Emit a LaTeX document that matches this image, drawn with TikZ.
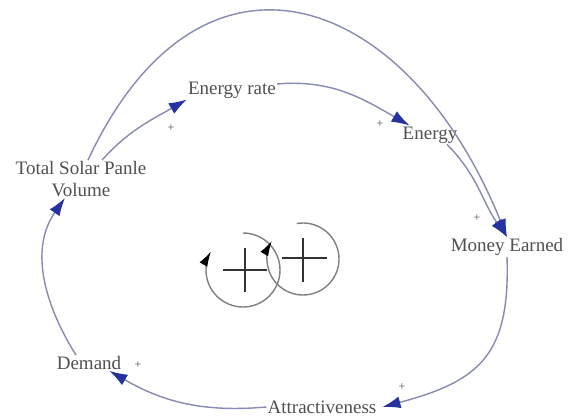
\documentclass[tikz,border=0pt]{standalone}
\usepackage{fontspec}
\setmainfont{Liberation Serif}
\usetikzlibrary{arrows.meta}
\definecolor{linkgray}{RGB}{135,138,178}
\definecolor{tipblue}{RGB}{38,50,160}
\definecolor{textgray}{RGB}{80,80,80}

\begin{document}
\begin{tikzpicture}[
        x=1pt, y=1pt,
        var/.style={inner sep=1pt, align=center, text=textgray, font=\fontsize{19}{22}\selectfont},
        sign/.style={inner sep=0pt, text=textgray, font=\fontsize{12}{12}\selectfont},
        link/.style={-{Latex[length=18pt,width=12pt,color=tipblue]}, draw=linkgray, line width=1.4pt},
        turn/.style={-{Latex[length=15pt,width=9pt,color=black]}, draw=gray, line width=1.4pt},
        cross/.style={draw=black!80, line width=2.4pt}
    ]
    \path[fill=white, use as bounding box] (0,0) rectangle (573,416);

    % Nodes
    \node[var] (solar) at (81,237) {Total Solar Panle\\Volume};
    \node[var] (rate) at (232,326) {Energy rate};
    \node[var] (energy) at (430,281) {Energy};
    \node[var] (money) at (507,169) {Money Earned};
    \node[var] (attr) at (322,9) {Attractiveness};
    \node[var] (demand) at (89,53) {Demand};

    % Polarity signs
    \node[sign] (s1) at (171,288) {+};
    \node[sign] (s2) at (380,292) {+};
    \node[sign] (s3) at (477,198) {+};
    \node[sign] (s4) at (402,29) {+};
    \node[sign] (s5) at (138,51) {+};

    % Arrows
    \draw[link] ([xshift=21pt]solar.north) to[out=48, in=210] (rate.south west);
    \draw[link] ([xshift=7pt]solar.north) to[out=65, in=112, looseness=1.6] (money.north);
    \draw[link] ([yshift=6pt]rate.east) to[out=5, in=150] ([xshift=8pt]energy.north west);
    \draw[link] ([xshift=17pt]energy.south) to[out=-45, in=125] (money.north);
    \draw[link] (money.south) to[out=-88, in=15, looseness=1.3] ([xshift=5pt]attr.east);
    \draw[link] (attr.west) to[out=185, in=-30] ([xshift=-13pt]demand.south east);
    \draw[link] ([xshift=-13pt]demand.north) to[out=122, in=235] ([xshift=-16pt]solar.south);

    % Loop symbol
    \coordinate (loopL) at (243,146);
    \coordinate (loopR) at (303,157);
    \draw[turn] ([shift={(90:37)}]loopL) arc[start angle=90, end angle=-210, radius=37];
    \draw[turn] ([shift={(100:36)}]loopR) arc[start angle=100, end angle=-210, radius=36];
    \draw[cross] (loopL) +(-20,0) -- +(24,0) +(2,-22) -- +(2,22);
    \draw[cross] (loopR) +(-21,1) -- +(24,1) +(0,-23) -- +(0,21);
\end{tikzpicture}
\end{document}
